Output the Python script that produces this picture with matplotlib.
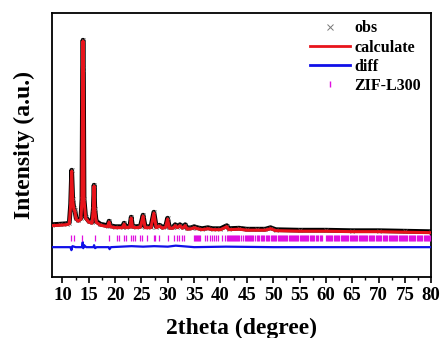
import matplotlib
matplotlib.use('Agg')
import matplotlib.pyplot as plt
from matplotlib.lines import Line2D
from matplotlib.ticker import MultipleLocator

plt.rcParams['font.family'] = ['Liberation Serif', 'DejaVu Serif']
plt.rcParams['font.weight'] = 'bold'

# Rietveld refinement pattern
two_theta = [8.0, 9.5, 10.8, 11.3, 11.55, 11.75, 11.95, 12.15, 12.35, 12.6,
             13.0, 13.5, 13.7, 13.82, 13.9, 13.98, 14.1, 14.4, 15.0, 15.6,
             15.85, 16.0, 16.15, 16.4, 17.2, 18.6, 18.85, 19.1, 20.0, 21.4,
             21.7, 22.0, 22.8, 23.05, 23.3, 24.0, 24.8, 25.3, 25.7, 26.8,
             27.35, 27.8, 28.4, 29.0, 29.6, 29.95, 30.3, 31.0, 31.4, 31.8,
             32.3, 32.8, 33.3, 33.7, 34.5, 35.0, 35.6, 36.5, 37.6, 38.5,
             40.0, 41.2, 41.6, 43.5, 45.0, 47.0, 48.5, 49.5, 50.5, 55.0,
             60.0, 65.0, 70.0, 75.0, 80.0]
calc = [5150, 5200, 5250, 5350, 7200, 10600, 7700, 6800, 6600, 5800,
        5600, 5800, 7700, 20700, 23600, 20700, 7700, 5900, 5500, 5400,
        6700, 9100, 6700, 5500, 5200, 5050, 5500, 5050, 4950, 4950,
        5300, 4950, 5000, 5900, 5000, 4950, 5000, 6100, 4950, 4950,
        6400, 4950, 5100, 4900, 5000, 5800, 4900, 4900, 5150, 4950,
        5150, 4900, 5150, 4800, 4850, 4950, 4850, 4750, 4850, 4750,
        4750, 5050, 4750, 4800, 4700, 4700, 4700, 4850, 4650, 4600,
        4600, 4550, 4550, 4500, 4450]
obs = [5250, 5300, 5350, 5450, 7300, 10700, 7800, 6900, 6700, 5900,
       5700, 5900, 7800, 20800, 23700, 20800, 7800, 6000, 5600, 5500,
       6800, 9200, 6800, 5600, 5300, 5150, 5600, 5150, 5050, 5050,
       5400, 5050, 5100, 6000, 5100, 5050, 5100, 6200, 5050, 5050,
       6500, 5050, 5200, 5000, 5100, 5900, 5000, 5000, 5250, 5050,
       5250, 5000, 5250, 4900, 4950, 5050, 4950, 4850, 4950, 4850,
       4850, 5150, 4850, 4900, 4800, 4800, 4800, 4950, 4750, 4700,
       4700, 4650, 4650, 4600, 4550]

diff_x = [8.0, 11.5, 11.7, 11.9, 12.5, 13.7, 13.85, 13.95, 14.1, 14.5,
          15.9, 16.0, 16.2, 16.5, 18.8, 18.95, 19.2, 23.1, 25.3, 27.4,
          30.0, 31.5, 35.0, 41.0, 50.0, 80.0]
diff = [0, 0, -300, 100, 0, 0, 500, -100, 200, 0,
        0, 200, -100, 0, 0, -200, 0, 100, 50, 100,
        50, 150, 0, 50, 0, 0]

# reflection positions of ZIF-L300
refl = [11.6, 12.2, 13.8, 16.2, 18.8, 20.3, 20.7, 21.7, 22.1, 23.1,
        23.4, 23.8, 24.7, 25.1, 26.0, 27.3, 27.6, 28.4, 30.0, 31.2,
        31.7, 32.1, 32.6, 33.1, 35.0, 35.2, 35.4, 35.6, 35.8, 36.0,
        36.2, 37.0, 37.5, 38.0, 38.3, 38.8, 39.2, 39.5, 40.2, 40.9,
        41.2, 41.4, 41.6, 41.8, 42.0, 42.2, 42.4, 42.6, 42.8, 43.0,
        43.2, 43.4, 43.6, 43.8, 44.2, 44.6, 44.8, 45.0, 45.2, 45.4,
        45.6, 45.8, 46.0, 46.2, 46.6, 46.9, 47.1, 47.3, 47.6, 47.8,
        48.0, 48.3, 48.6, 48.8, 49.1, 49.3, 49.6, 49.8, 50.0, 50.2,
        50.4, 50.6, 50.9, 51.1, 51.3, 51.5, 51.7, 51.9, 52.1, 52.3,
        52.5, 52.7, 53.0, 53.2, 53.4, 53.6, 53.8, 54.0, 54.2, 54.4,
        54.6, 54.8, 55.0, 55.2, 55.4, 55.7, 55.9, 56.1, 56.3, 56.5,
        56.7, 56.9, 57.2, 57.4, 57.6, 57.8, 58.1, 58.3, 58.6, 58.8,
        59.0, 59.2, 60.0, 60.2, 60.4, 60.6, 60.8, 61.0, 61.2, 61.5,
        61.7, 61.9, 62.1, 62.3, 62.5, 62.8, 63.0, 63.2, 63.4, 63.6,
        63.8, 64.0, 64.3, 64.5, 64.7, 64.9, 65.1, 65.3, 65.6, 65.8,
        66.0, 66.2, 66.4, 66.6, 66.8, 67.0, 67.3, 67.5, 67.7, 67.9,
        68.1, 68.4, 68.6, 68.8, 69.0, 69.2, 69.5, 69.7, 69.9, 70.1,
        70.3, 70.5, 70.8, 71.0, 71.2, 71.4, 71.6, 71.9, 72.1, 72.3,
        72.5, 72.7, 72.9, 73.1, 73.4, 73.6, 73.8, 74.0, 74.2, 74.5,
        74.7, 74.9, 75.1, 75.3, 75.5, 75.8, 76.0, 76.2, 76.4, 76.6,
        76.8, 77.0, 77.3, 77.5, 77.7, 77.9, 78.1, 78.3, 78.6, 78.8,
        79.0, 79.2, 79.4, 79.6, 79.8]

diff_level = 3000
refl_level = 3900

fig = plt.figure(figsize=(4.4, 3.38), dpi=100)
ax = fig.add_axes([0.118, 0.180, 0.862, 0.781])

ax.plot(two_theta, obs, color='black', linewidth=3.4, zorder=2)
ax.plot(two_theta, obs, linestyle='none', marker='x', markersize=3,
        markeredgewidth=0.6, color='#555555', zorder=2)
ax.plot(two_theta, calc, color='#e8141b', linewidth=2.2, zorder=3)
ax.plot(diff_x, [d + diff_level for d in diff], color='#1010e8',
        linewidth=1.6, zorder=3)
ax.plot(refl, [refl_level] * len(refl), linestyle='none', marker='|',
        markersize=4.5, markeredgewidth=0.9, color='#e010e0', zorder=3)

ax.set_xlim(8, 80)
ax.set_ylim(0, 26400)
ax.xaxis.set_major_locator(MultipleLocator(5))
ax.xaxis.set_minor_locator(MultipleLocator(2.5))
ax.set_xticks(range(10, 81, 5))
ax.set_yticks([])
ax.tick_params(axis='x', which='major', direction='out', length=4, width=1.2,
               labelsize=13.5, pad=3)
ax.tick_params(axis='x', which='minor', direction='out', length=2, width=1.0)
for sp in ax.spines.values():
    sp.set_linewidth(1.3)

ax.set_xlabel('2theta (degree)', fontsize=17, fontweight='bold', labelpad=10)
ax.set_ylabel('Intensity (a.u.)', fontsize=17, fontweight='bold', labelpad=12)

handles = [
    Line2D([], [], linestyle='none', marker='x', markersize=5,
           markeredgewidth=0.7, color='#777777'),
    Line2D([], [], color='#e8141b', linewidth=2),
    Line2D([], [], color='#1010e8', linewidth=2),
    Line2D([], [], linestyle='none', marker='|', markersize=5,
           markeredgewidth=1, color='#e010e0'),
]
labels = ['obs', 'calculate', 'diff', 'ZIF-L300']
ax.legend(handles, labels, loc='upper right', bbox_to_anchor=(1.011, 1.027),
          frameon=False, prop={'family': 'Liberation Serif', 'weight': 'bold',
                               'size': 11.5},
          handlelength=2.5, handletextpad=0.25, labelspacing=0.2)

fig.savefig('out.png', dpi=100)
